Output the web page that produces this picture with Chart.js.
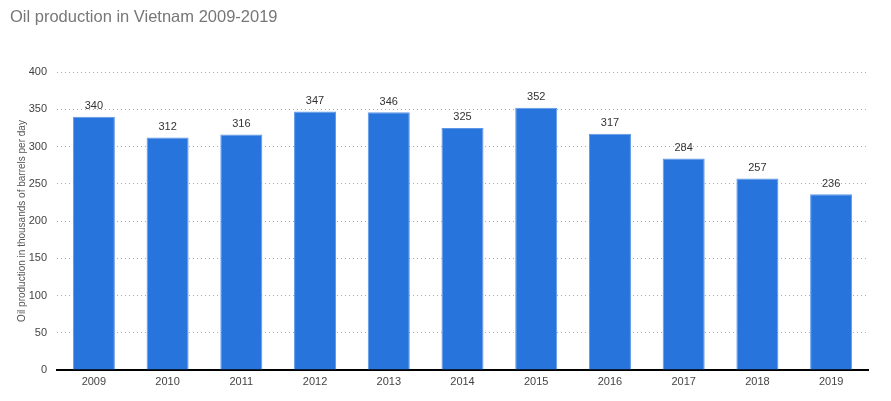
<!DOCTYPE html>
<html>
<head>
<meta charset="utf-8">
<script src="https://cdn.jsdelivr.net/npm/chart.js@4"></script>
<style>
  html, body { margin: 0; padding: 0; background: #fff; }
  #wrap { position: relative; width: 891px; height: 401px; }
  #title {
    position: absolute; left: 10px; top: 7px;
    font: 16.5px "Liberation Sans", Arial, sans-serif; color: #777;
  }
</style>
</head>
<body>
<div id="wrap">
  <div id="title">Oil production in Vietnam 2009-2019</div>
  <canvas id="oil_chart" width="891" height="401"></canvas>
</div>
<script>
let years = ["2009", "2010", "2011", "2012", "2013", "2014", "2015", "2016", "2017", "2018", "2019"];
let production = [340, 312, 316, 347, 346, 325, 352, 317, 284, 257, 236];
let yTicks = [0, 50, 100, 150, 200, 250, 300, 350, 400];

Chart.defaults.font.family = '"Liberation Sans", Arial, sans-serif';

// value labels above each bar
const barLabels = {
  id: "barLabels",
  afterDatasetsDraw(chart) {
    const c = chart.ctx;
    const meta = chart.getDatasetMeta(0);
    c.save();
    c.font = '11px "Liberation Sans", Arial, sans-serif';
    c.fillStyle = "#333";
    c.textAlign = "center";
    c.textBaseline = "bottom";
    meta.data.forEach((bar, i) => {
      c.fillText(production[i], bar.x, bar.y - 5);
    });
    c.restore();
  },
};

const ctx = document.getElementById("oil_chart").getContext("2d");

new Chart(ctx, {
  type: "bar",
  data: {
    labels: years,
    datasets: [
      {
        label: "Oil production",
        data: production,
        backgroundColor: "#2874dd",
        borderColor: "#5f97e6",
        borderWidth: 1,
        categoryPercentage: 0.57,
        barPercentage: 1,
      },
    ],
  },
  options: {
    responsive: false,
    animation: false,
    layout: { padding: { top: 72, right: 23, bottom: 6, left: 16 } },
    plugins: { legend: { display: false }, tooltip: { enabled: false } },
    scales: {
      y: {
        min: 0,
        max: 400,
        afterBuildTicks: (s) => { s.ticks = yTicks.map((v) => ({ value: v })); },
        afterFit: (s) => { s.width = 41; },
        border: { display: false },
        grid: {
          color: (c) => (c.tick && c.tick.value === 0 ? "rgba(0,0,0,0)" : "#aaa"),
          drawTicks: false,
        },
        ticks: { color: "#444", font: { size: 11 }, padding: 10 },
        title: {
          display: true,
          text: "Oil production in thousands of barrels per day",
          color: "#555",
          font: { size: 10 },
          padding: { top: 0, bottom: 0 },
        },
      },
      x: {
        afterFit: (s) => { s.height = 25; },
        border: { display: true, color: "#000", width: 2 },
        grid: { display: false, drawTicks: false },
        ticks: { color: "#444", font: { size: 11 }, padding: 5, autoSkip: false, maxRotation: 0 },
      },
    },
  },
  plugins: [barLabels],
});

// dotted horizontal grid
const chart = Chart.getChart("oil_chart");
chart.options.scales.y.border.dash = [1, 3];
chart.update();
</script>
</body>
</html>
